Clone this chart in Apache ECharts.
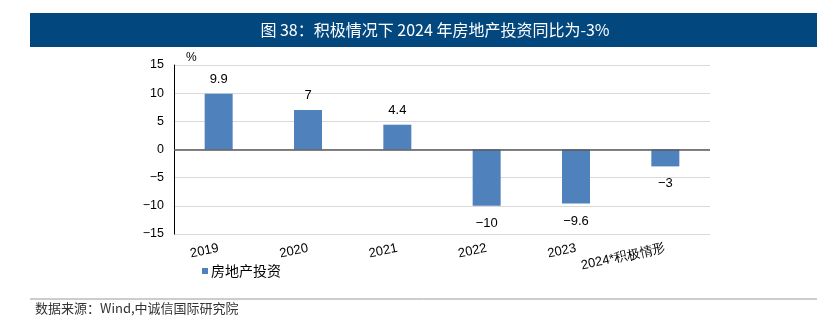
<!DOCTYPE html>
<html>
<head>
<meta charset="utf-8">
<script src="https://cdn.jsdelivr.net/npm/echarts@6/dist/echarts.min.js"></script>
<style>
html,body{margin:0;padding:0;background:#fff;}
#c{width:839px;height:325px;}
</style>
</head>
<body>
<div id="c"></div>
<script>
var categories = ['2019', '2020', '2021', '2022', '2023', '2024*积极情形'];
var values = [9.9, 7, 4.4, -10, -9.6, -3];
var seriesName = '房地产投资';
var titleText = '图 38：积极情况下 2024 年房地产投资同比为-3%';
var sourceText = '数据来源：Wind,中诚信国际研究院';
var yMin = -15, yMax = 15, yInterval = 5;

var cjk = '"Noto Sans CJK SC", sans-serif';
var latin = '"Liberation Sans", Arial, sans-serif';
function minus(v){ return String(v).replace('-', '\u2212'); }

var chart = echarts.init(document.getElementById('c'), null, {renderer:'canvas'});
chart.setOption({
  animation: false,
  backgroundColor: '#fff',
  grid: {left: 174, right: 129, top: 65, bottom: 91},
  legend: {
    left: 197, top: 259,
    itemWidth: 6, itemHeight: 6, itemGap: 4,
    icon: 'rect',
    textStyle: {fontFamily: cjk, fontSize: 14, color: '#000', padding:[0,0,0,-2]},
    data: [seriesName]
  },
  xAxis: {
    type: 'category',
    data: categories,
    axisLine: {show: false, onZero: false},
    axisTick: {show: false},
    axisLabel: {
      rotate: 12, interval: 0, margin: 14,
      fontFamily: latin, fontSize: 13, color: '#000'
    }
  },
  yAxis: {
    type: 'value',
    min: yMin, max: yMax, interval: yInterval,
    axisLine: {show: true, lineStyle: {color: '#000', width: 1}},
    axisTick: {show: false},
    axisLabel: {margin: 10, fontFamily: latin, fontSize: 12.5, color: '#000',
      formatter: function(v){ return minus(v); }},
    splitLine: {lineStyle: {color: '#d9d9d9', width: 1}}
  },
  series: [{
    name: seriesName,
    type: 'bar',
    barWidth: 28,
    itemStyle: {color: '#4f81bd'},
    data: values.map(function(v){
      return {value: v, label: {position: v >= 0 ? 'top' : 'bottom', distance: v >= 0 ? 8 : 11}};
    }),
    label: {
      show: true,
      fontFamily: latin, fontSize: 13, color: '#000',
      formatter: function(p){ return minus(p.value); }
    },
    markLine: {
      silent: true, symbol: 'none',
      label: {show: false},
      lineStyle: {color: '#595959', width: 1.5, type: 'solid'},
      data: [{yAxis: 0}]
    }
  }],
  graphic: [
    {type: 'rect', left: 30, top: 13, shape: {width: 787, height: 34}, style: {fill: '#03477f'}},
    {type: 'text', x: 435, y: 30, style: {text: titleText, fill: '#fff', font: '16px ' + cjk, textAlign: 'center', textVerticalAlign: 'middle'}},
    {type: 'text', left: 186, top: 52, style: {text: '%', fill: '#000', font: '12px ' + latin}},
    {type: 'line', shape: {x1: 30, y1: 299, x2: 817, y2: 299}, style: {stroke: '#9a9a9a', lineWidth: 1}},
    {type: 'text', left: 35, top: 302, style: {text: sourceText, fill: '#333', font: '13px ' + cjk}}
  ]
});
</script>
</body>
</html>
